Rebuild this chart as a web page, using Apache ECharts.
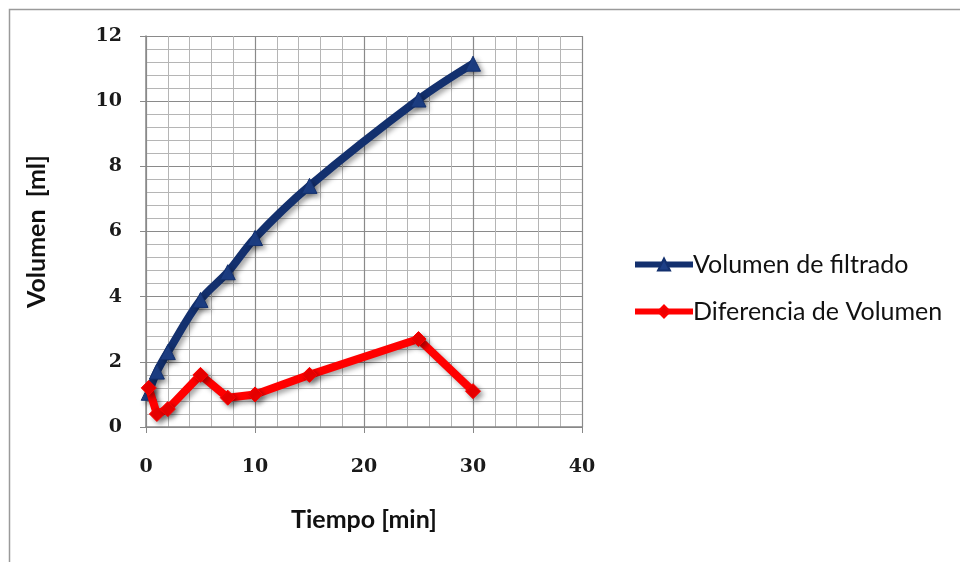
<!DOCTYPE html>
<html>
<head>
<meta charset="utf-8">
<script src="https://cdn.jsdelivr.net/npm/echarts@6/dist/echarts.min.js"></script>
<style>
  html, body { margin: 0; padding: 0; background: #fff; }
  #chart { width: 960px; height: 562px; }
</style>
</head>
<body>
<div id="chart"></div>
<script>
// Filtration test: time (min) vs. filtrate volume and volume difference (ml)
const tiempo = [0.25, 1, 2, 5, 7.5, 10, 15, 25, 30];
const volumenFiltrado = [1.05, 1.7, 2.3, 3.9, 4.75, 5.8, 7.4, 10.05, 11.15];
const diferenciaVolumen = [1.2, 0.4, 0.55, 1.6, 0.9, 1.0, 1.6, 2.7, 1.1];

const pairs = (xs, ys) => xs.map((x, i) => [x, ys[i]]);

const tickFont = { fontFamily: 'DejaVu Serif', fontWeight: 'bold', fontSize: 19, color: '#1a1a1a' };
const titleFont = { fontFamily: 'Lato', fontWeight: 'bold', fontSize: 25, color: '#111' };
const shadow = { shadowColor: 'rgba(0,0,0,0.35)', shadowBlur: 5, shadowOffsetX: 3, shadowOffsetY: 3 };

const chart = echarts.init(document.getElementById('chart'), null, { renderer: 'canvas' });
chart.setOption({
  backgroundColor: '#fff',
  animation: false,
  graphic: [{
    type: 'rect',
    shape: { x: 9.5, y: 9.5, width: 1000, height: 600 },
    style: { fill: 'none', stroke: '#9a9a9a', lineWidth: 1.5 },
    z: -10
  }],
  grid: { left: 146, right: 378, top: 36, bottom: 135 },
  legend: {
    orient: 'vertical',
    left: 632,
    top: 252,
    padding: 0,
    itemWidth: 58,
    itemHeight: 15,
    itemGap: 22,
    lineStyle: { width: 6 },
    textStyle: { fontFamily: 'Lato', fontSize: 25, color: '#111', padding: [0, 0, 0, -5] },
    data: ['Volumen de filtrado', 'Diferencia de Volumen']
  },
  xAxis: {
    type: 'value',
    min: 0, max: 40, interval: 10,
    name: 'Tiempo [min]',
    nameLocation: 'middle',
    nameGap: 80,
    nameTextStyle: titleFont,
    axisLine: { show: true, lineStyle: { color: '#888', width: 1.5 } },
    axisTick: { show: true, inside: false, length: 6, lineStyle: { color: '#888' } },
    axisLabel: Object.assign({ margin: 31 }, tickFont),
    splitLine: { show: true, lineStyle: { color: '#8a8a8a', width: 1.2 } },
    minorTick: { show: false, splitNumber: 5 },
    minorSplitLine: { show: true, lineStyle: { color: '#b5b5b5', width: 1 } }
  },
  yAxis: {
    type: 'value',
    min: 0, max: 12, interval: 2,
    name: 'Volumen  [ml]',
    nameLocation: 'middle',
    nameGap: 97,
    nameRotate: 90,
    nameTextStyle: titleFont,
    axisLine: { show: true, lineStyle: { color: '#888', width: 1.5 } },
    axisTick: { show: true, inside: false, length: 6, lineStyle: { color: '#888' } },
    axisLabel: Object.assign({ margin: 24 }, tickFont),
    splitLine: { show: true, lineStyle: { color: '#8a8a8a', width: 1.2 } },
    minorTick: { show: false, splitNumber: 5 },
    minorSplitLine: { show: true, lineStyle: { color: '#b5b5b5', width: 1 } }
  },
  series: [
    {
      name: 'Volumen de filtrado',
      type: 'line',
      data: pairs(tiempo, volumenFiltrado),
      smooth: 0.35,
      symbol: 'triangle',
      symbolSize: 15,
      color: '#13306e',
      lineStyle: Object.assign({ width: 8, color: '#13306e' }, shadow),
      itemStyle: Object.assign({ color: '#1d3f86', borderColor: '#13306e', borderWidth: 1 }, shadow),
      z: 3
    },
    {
      name: 'Diferencia de Volumen',
      type: 'line',
      data: pairs(tiempo, diferenciaVolumen),
      smooth: false,
      symbol: 'diamond',
      symbolSize: 15,
      color: '#ff0000',
      lineStyle: Object.assign({ width: 8, color: '#ff0000' }, shadow),
      itemStyle: Object.assign({ color: '#ee0000', borderColor: '#ff0000', borderWidth: 1 }, shadow),
      z: 4
    }
  ]
});
</script>
</body>
</html>
